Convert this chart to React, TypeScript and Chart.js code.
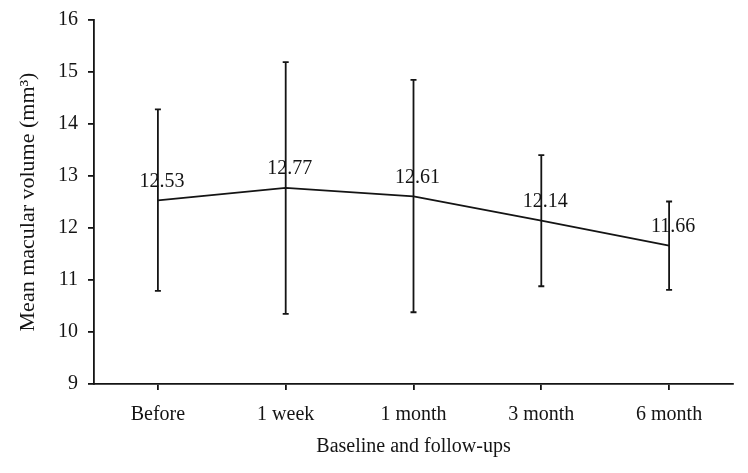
import React, { useEffect, useRef } from "react";
import { Chart, registerables } from "chart.js";

Chart.register(...registerables);

const categories = ["Before", "1 week", "1 month", "3 month", "6 month"];
const meanValues = [12.53, 12.77, 12.61, 12.14, 11.66];
const upperValues = [14.28, 15.19, 14.85, 13.4, 12.51];
const lowerValues = [10.79, 10.35, 10.38, 10.88, 10.81];
const dataLabels = ["12.53", "12.77", "12.61", "12.14", "11.66"];
const yTicks = [9, 10, 11, 12, 13, 14, 15, 16];

const FONT = "'Liberation Serif', 'Times New Roman', serif";
const INK = "#141414";

const errorBarPlugin = {
  id: "errorBars",
  afterDatasetsDraw(chart: any) {
    const { ctx, scales } = chart;
    const x = scales.x;
    const y = scales.y;
    ctx.save();
    ctx.strokeStyle = INK;
    ctx.lineWidth = 1.8;
    for (let i = 0; i < categories.length; i++) {
      const px = x.getPixelForValue(i);
      const top = y.getPixelForValue(upperValues[i]);
      const bot = y.getPixelForValue(lowerValues[i]);
      ctx.beginPath();
      ctx.moveTo(px, top);
      ctx.lineTo(px, bot);
      ctx.moveTo(px - 3, top);
      ctx.lineTo(px + 3, top);
      ctx.moveTo(px - 3, bot);
      ctx.lineTo(px + 3, bot);
      ctx.stroke();
    }
    ctx.fillStyle = INK;
    ctx.font = `20px ${FONT}`;
    ctx.textAlign = "center";
    ctx.textBaseline = "middle";
    for (let i = 0; i < categories.length; i++) {
      const px = x.getPixelForValue(i);
      const py = y.getPixelForValue(meanValues[i]);
      ctx.fillText(dataLabels[i], px + 4, py - 19);
    }
    ctx.restore();
  },
};

export default function App() {
  const ref = useRef<HTMLCanvasElement | null>(null);
  useEffect(() => {
    if (!ref.current) return;
    const chart = new Chart(ref.current, {
      type: "line",
      data: {
        labels: categories,
        datasets: [
          {
            data: meanValues,
            borderColor: INK,
            borderWidth: 1.8,
            pointRadius: 0,
            tension: 0,
            fill: false,
          },
        ],
      },
      options: {
        animation: false,
        responsive: true,
        maintainAspectRatio: false,
        layout: { padding: { top: 12, right: 7, left: 0, bottom: 0 } },
        plugins: {
          legend: { display: false },
          tooltip: { enabled: false },
        },
        scales: {
          x: {
            type: "category",
            offset: true,
            grid: {
              display: true,
              drawOnChartArea: false,
              drawTicks: true,
              tickLength: 6,
              offset: false,
              color: INK,
              lineWidth: 1.8,
            },
            border: { display: true, color: INK, width: 1.8 },
            ticks: {
              color: INK,
              font: { family: FONT, size: 20 },
              padding: 13,
              maxRotation: 0,
            },
            title: {
              display: true,
              text: "Baseline and follow-ups",
              color: INK,
              font: { family: FONT, size: 20 },
              padding: { top: 4, bottom: 6 },
            },
            afterFit: (s: any) => {
              s.height = 81;
              s.paddingLeft = 0;
              s.paddingRight = 0;
            },
          },
          y: {
            min: 9,
            max: 16,
            afterBuildTicks: (s: any) => {
              s.ticks = yTicks.map((v) => ({ value: v }));
            },
            grid: {
              display: true,
              drawOnChartArea: false,
              drawTicks: true,
              tickLength: 6,
              color: INK,
              lineWidth: 1.8,
            },
            border: { display: true, color: INK, width: 1.8 },
            ticks: {
              color: INK,
              font: { family: FONT, size: 20 },
              padding: 10,
            },
            title: {
              display: true,
              text: "Mean macular volume (mm³)",
              color: INK,
              font: { family: FONT, size: 22 },
              padding: { top: 7, bottom: 4 },
            },
            afterFit: (s: any) => {
              s.width = 86;
              s.paddingTop = 0;
              s.paddingBottom = 0;
            },
          },
        },
      },
      plugins: [errorBarPlugin],
    });
    return () => chart.destroy();
  }, []);
  return (
    <div style={{ width: 732, height: 457, position: "relative" }}>
      <canvas ref={ref} />
    </div>
  );
}
